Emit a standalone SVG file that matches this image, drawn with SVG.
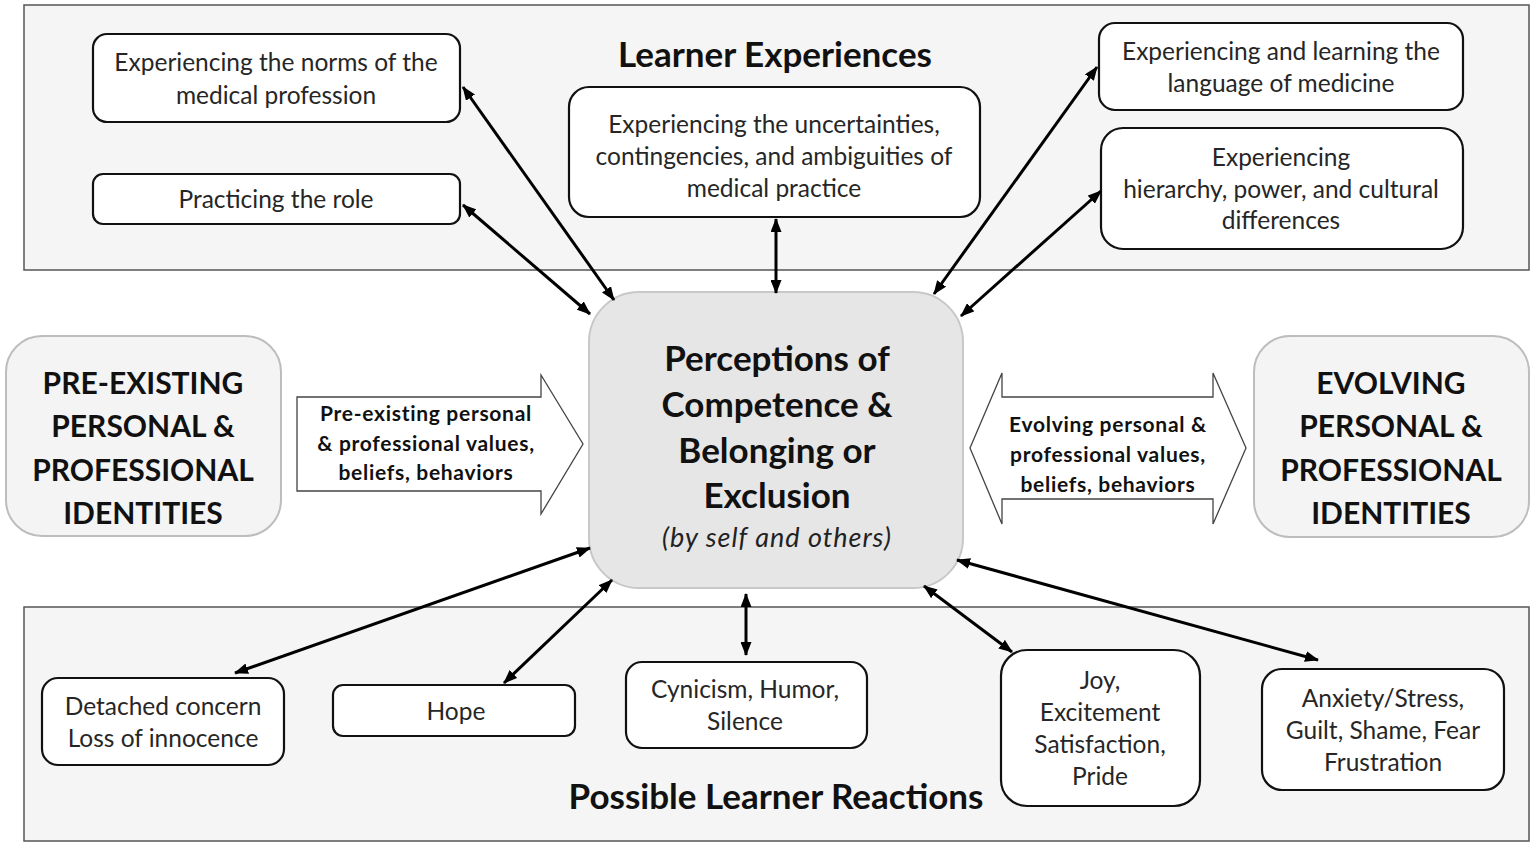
<svg xmlns="http://www.w3.org/2000/svg" width="1535" height="847" viewBox="0 0 1535 847">
<defs>
<style>
.panel{fill:#f5f5f5;stroke:#555;stroke-width:1.5}
.box{fill:#fff;stroke:#111;stroke-width:2.2}
.ident{fill:#f4f4f4;stroke:#bdbdbd;stroke-width:2}
.center{fill:#e6e6e6;stroke:#c8c8c8;stroke-width:2}
.blk{fill:#fff;stroke:#444;stroke-width:1.3}
.t{font-family:Lato,"Open Sans",sans-serif;font-size:24.5px;fill:#262626;text-anchor:middle}
.h{font-family:Lato,"Open Sans",sans-serif;font-weight:bold;font-size:30px;fill:#111;text-anchor:middle}
.ti{font-family:Lato,"Open Sans",sans-serif;font-weight:bold;font-size:35px;fill:#111;text-anchor:middle}
.c{font-family:Lato,"Open Sans",sans-serif;font-weight:bold;font-size:35px;fill:#111;text-anchor:middle}
.a{font-family:Lato,"Open Sans",sans-serif;font-weight:bold;font-size:21px;letter-spacing:0.7px;fill:#111;text-anchor:middle}
.conn line{stroke:#000;stroke-width:3;marker-start:url(#ah);marker-end:url(#ah)}
</style>
<marker id="ah" markerUnits="userSpaceOnUse" markerWidth="14" markerHeight="11" refX="13" refY="5.5" orient="auto-start-reverse" viewBox="0 0 14 11">
<path d="M0,0 L14,5.5 L0,11 z" fill="#000"/>
</marker>
</defs>
<rect x="0" y="0" width="1535" height="847" fill="#fff"/>

<g id="panel-top"><rect class="panel" x="24" y="5" width="1505" height="265"/>
<text class="ti" x="775" y="67">Learner Experiences</text></g>
<g id="panel-bottom"><rect class="panel" x="24" y="607" width="1505" height="234"/>
<text class="ti" x="776" y="809">Possible Learner Reactions</text></g>

<g id="norms"><rect class="box" x="93" y="34" width="367" height="88" rx="14"/>
<text class="t" x="276" y="71">Experiencing the norms of the</text>
<text class="t" x="276" y="104">medical profession</text></g>
<g id="role"><rect class="box" x="93" y="174" width="367" height="50" rx="10"/>
<text class="t" x="276" y="208">Practicing the role</text></g>
<g id="uncertainties"><rect class="box" x="569" y="87" width="411" height="130" rx="20"/>
<text class="t" x="774" y="133">Experiencing the uncertainties,</text>
<text class="t" x="774" y="165">contingencies, and ambiguities of</text>
<text class="t" x="774" y="197">medical practice</text></g>
<g id="language"><rect class="box" x="1099" y="23" width="364" height="87" rx="16"/>
<text class="t" x="1281" y="60">Experiencing and learning the</text>
<text class="t" x="1281" y="92">language of medicine</text></g>
<g id="hierarchy"><rect class="box" x="1101" y="128" width="362" height="121" rx="22"/>
<text class="t" x="1281" y="166">Experiencing</text>
<text class="t" x="1281" y="198">hierarchy, power, and cultural</text>
<text class="t" x="1281" y="229">differences</text></g>

<g id="perceptions"><rect class="center" x="589" y="292" width="374" height="296" rx="50"/>
<text class="c" x="777" y="371">Perceptions of</text>
<text class="c" x="777" y="417">Competence &amp;</text>
<text class="c" x="777" y="463">Belonging or</text>
<text class="c" x="777" y="508">Exclusion</text>
<text x="777" y="547" style="font-family:Lato,'Open Sans',sans-serif;font-style:italic;font-size:27px;letter-spacing:1px;fill:#222;text-anchor:middle">(by self and others)</text></g>

<g id="pre-identities"><rect class="ident" x="6" y="336" width="275" height="200" rx="36"/>
<text class="h" x="143" y="394">PRE-EXISTING</text>
<text class="h" x="143" y="437">PERSONAL &amp;</text>
<text class="h" x="143" y="481">PROFESSIONAL</text>
<text class="h" x="143" y="524">IDENTITIES</text></g>
<g id="evolving-identities"><rect class="ident" x="1254" y="336" width="275" height="201" rx="36"/>
<text class="h" x="1391" y="394">EVOLVING</text>
<text class="h" x="1391" y="437">PERSONAL &amp;</text>
<text class="h" x="1391" y="481">PROFESSIONAL</text>
<text class="h" x="1391" y="524">IDENTITIES</text></g>

<g id="pre-values"><polygon class="blk" points="297,397 541,397 541,375 583,444 541,514 541,491 297,491"/>
<text class="a" x="426" y="421">Pre-existing personal</text>
<text class="a" x="426" y="451">&amp; professional values,</text>
<text class="a" x="426" y="480">beliefs, behaviors</text></g>
<g id="evolving-values"><polygon class="blk" points="970,448 1002,373 1002,397 1213,397 1213,373 1246,448 1213,524 1213,499 1002,499 1002,524"/>
<text class="a" x="1108" y="432">Evolving personal &amp;</text>
<text class="a" x="1108" y="462">professional values,</text>
<text class="a" x="1108" y="492">beliefs, behaviors</text></g>

<g id="detached"><rect class="box" x="42" y="678" width="242" height="87" rx="16"/>
<text class="t" x="163" y="715">Detached concern</text>
<text class="t" x="163" y="747">Loss of innocence</text></g>
<g id="hope"><rect class="box" x="333" y="685" width="242" height="51" rx="10"/>
<text class="t" x="456" y="720">Hope</text></g>
<g id="cynicism"><rect class="box" x="626" y="662" width="241" height="86" rx="16"/>
<text class="t" x="745" y="698">Cynicism, Humor,</text>
<text class="t" x="745" y="730">Silence</text></g>
<g id="joy"><rect class="box" x="1001" y="650" width="199" height="156" rx="26"/>
<text class="t" x="1100" y="689">Joy,</text>
<text class="t" x="1100" y="721">Excitement</text>
<text class="t" x="1100" y="753">Satisfaction,</text>
<text class="t" x="1100" y="785">Pride</text></g>
<g id="anxiety"><rect class="box" x="1262" y="669" width="242" height="121" rx="20"/>
<text class="t" x="1383" y="707">Anxiety/Stress,</text>
<text class="t" x="1383" y="739">Guilt, Shame, Fear</text>
<text class="t" x="1383" y="771">Frustration</text></g>

<g id="connectors" class="conn">
<line x1="463" y1="87" x2="614" y2="300"/>
<line x1="463" y1="205" x2="590" y2="314"/>
<line x1="776" y1="219" x2="776" y2="293"/>
<line x1="1097" y1="67" x2="934" y2="294"/>
<line x1="1101" y1="191" x2="961" y2="316"/>
<line x1="235" y1="673" x2="590" y2="548"/>
<line x1="504" y1="683" x2="612" y2="580"/>
<line x1="746" y1="655" x2="746" y2="594"/>
<line x1="1012" y1="652" x2="924" y2="586"/>
<line x1="1318" y1="660" x2="957" y2="560"/>
</g>
</svg>
